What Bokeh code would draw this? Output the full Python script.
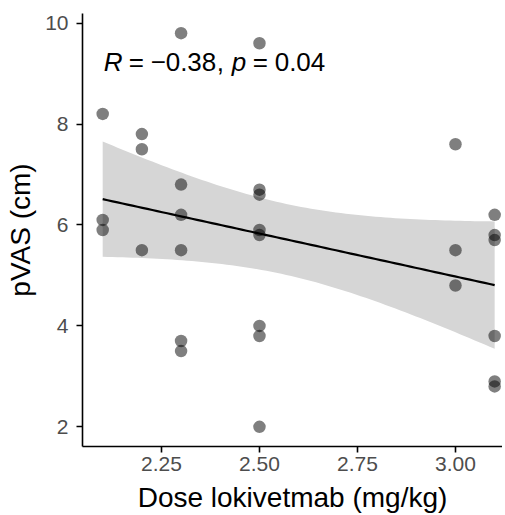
import numpy as np
from bokeh.plotting import figure
from bokeh.models import ColumnDataSource, Range1d, FixedTicker, CustomJSTickFormatter
from bokeh.core.properties import value
from bokeh.embed import file_html
from bokeh.resources import INLINE

# ---- data ----
dose = [2.1, 2.1, 2.1,
        2.2, 2.2, 2.2,
        2.3, 2.3, 2.3, 2.3, 2.3, 2.3,
        2.5, 2.5, 2.5, 2.5, 2.5, 2.5, 2.5, 2.5,
        3.0, 3.0, 3.0,
        3.1, 3.1, 3.1, 3.1, 3.1, 3.1]
pvas = [8.2, 6.1, 5.9,
        7.8, 7.5, 5.5,
        9.8, 6.8, 6.2, 5.5, 3.7, 3.5,
        9.6, 6.7, 6.6, 5.9, 5.8, 4.0, 3.8, 2.0,
        7.6, 5.5, 4.8,
        6.2, 5.8, 5.7, 3.8, 2.9, 2.8]
x_ticks = [2.25, 2.50, 2.75, 3.00]
y_ticks = [2, 4, 6, 8, 10]
# annotation pieces: (text, italic?, pixel offset from start)
label_parts = [("R", True, 1), ("=", False, 26), ("\u2212", False, 48), ("0.38", False, 63),
               (",", False, 114), ("p", True, 129), ("=", False, 150), ("0.04", False, 172)]

# ---- linear fit with 95% confidence band ----
x = np.array(dose)
y = np.array(pvas)
n = len(x)
slope, intercept = np.polyfit(x, y, 1)
xs = np.linspace(x.min(), x.max(), 80)
fit = intercept + slope * xs
resid = y - (intercept + slope * x)
s = np.sqrt(np.sum(resid ** 2) / (n - 2))
sxx = np.sum((x - x.mean()) ** 2)
t_crit = 2.052  # t(0.975, df=27)
se = s * np.sqrt(1.0 / n + (xs - x.mean()) ** 2 / sxx)
band = ColumnDataSource(dict(x=xs, fit=fit, lo=fit - t_crit * se, hi=fit + t_crit * se))
pts = ColumnDataSource(dict(x=dose, y=pvas))

p = figure(width=502, height=515, output_backend="svg", toolbar_location=None,
           x_range=Range1d(2.0485, 3.12), y_range=Range1d(1.61, 10.19),
           min_border_left=82, min_border_right=0, min_border_top=13, min_border_bottom=66)
p.background_fill_color = "white"
p.border_fill_color = "white"
p.outline_line_color = None
p.grid.visible = False

p.varea(x="x", y1="lo", y2="hi", source=band, fill_color="#d6d6d6", fill_alpha=1.0)
p.scatter(x="x", y="y", source=pts, size=12.5, fill_color="black", fill_alpha=0.5,
          line_color="black", line_alpha=0.0)
p.line(x="x", y="fit", source=band, line_color="black", line_width=2.2)

font = "Liberation Sans"
ax_x = p.xaxis[0]
ax_y = p.yaxis[0]
ax_x.ticker = FixedTicker(ticks=x_ticks)
ax_y.ticker = FixedTicker(ticks=y_ticks)
ax_x.formatter = CustomJSTickFormatter(code="return tick.toFixed(2);")
for ax in (ax_x, ax_y):
    ax.axis_line_color = "black"
    ax.axis_line_width = 1.6
    ax.major_tick_line_color = "black"
    ax.major_tick_line_width = 1.6
    ax.major_tick_out = 6
    ax.major_tick_in = 0
    ax.minor_tick_line_color = None
    ax.major_label_text_font = font
    ax.major_label_text_font_size = "21px"
    ax.major_label_text_color = "#4d4d4d"
    ax.axis_label_text_font = font
    ax.axis_label_text_font_size = "28px"
    ax.axis_label_text_font_style = "normal"
    ax.axis_label_text_color = "black"
ax_x.axis_label = "Dose lokivetmab (mg/kg)"
ax_y.axis_label = "pVAS (cm)"
ax_x.major_label_standoff = 4
ax_y.major_label_standoff = 8
ax_x.axis_label_standoff = 8
ax_y.axis_label_standoff = 6

# correlation annotation (italic R and p)
ax0, ay0 = 2.1, 9.22
for txt, italic, off in label_parts:
    p.text(x=[ax0], y=[ay0], text=[txt], x_offset=off,
           text_font=value(font), text_font_size="26px", text_color="black",
           text_font_style="italic" if italic else "normal",
           text_baseline="alphabetic", text_align="left")

open("out.html", "w").write(file_html(p, INLINE))
